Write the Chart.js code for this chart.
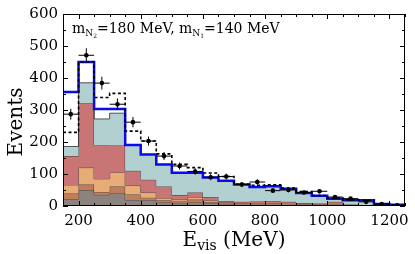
<!DOCTYPE html>
<html>
<head>
<meta charset="utf-8">
<script src="https://cdn.jsdelivr.net/npm/chart.js@4.4.0/dist/chart.umd.min.js"></script>
<style>
  html, body { margin: 0; padding: 0; background: #fff; }
</style>
</head>
<body>
<canvas id="evisChart" width="415" height="254"></canvas>
<script>
/* ----- data ----- */
const binLow = [150, 200, 250, 300, 350, 400, 450, 500, 550, 600, 650,
                700, 750, 800, 850, 900, 950, 1000, 1050, 1100, 1150, 1200];
const binHigh = 1250;

// stacked background components, bottom to top
const grayPart   = [22, 49, 35, 41, 19, 18, 11, 10, 11, 8, 5, 3, 3, 3, 3, 2, 2, 2, 1, 1, 1, 0.5];
const brownPart  = [17, 18, 9, 20, 17, 8, 7, 4, 9, 5, 3, 2, 2, 2, 1, 1, 1, 1, 1, 0.5, 0, 0];
const orangePart = [27, 53, 41, 44, 28, 16, 7, 6, 8, 5, 3, 3, 3, 3, 3, 2, 2, 3, 1, 0.5, 0.5, 0.5];
const redPart    = [90, 201, 105, 84, 46, 40, 36, 14, 14, 10, 5, 5, 6, 8, 6, 4, 3, 7, 2, 1, 0.5, 0];
const tealPart   = [30, 64, 82, 101, 81, 79, 69, 70, 62, 61, 63, 54, 45, 46, 41, 32, 24, 10, 13, 15, 4, 3];

const blueLine   = [356, 450, 303, 303, 191, 161, 130, 104, 104, 89, 79, 67, 59, 62, 54, 41, 32, 23, 18, 18, 6, 4];
const dashedLine = [230, 450, 339, 352, 234, 203, 163, 130, 120, 103, 92, 68, 65, 66, 56, 45, 33, 25, 19, 18, 6, 4];

const dataPoints = [287, 471, 384, 318, 262, 203, 156, 125, 108, 90, 92, 67, 75, 48, 50, 42, 46, 28, 23, 13, 6, 2];
const dataErrors = [17, 22, 20, 18, 16, 14, 12.5, 11, 10, 9.5, 9.6, 8, 8.7, 7, 7, 6.5, 6.8, 5.3, 4.8, 3.6, 2.4, 1.4];

const xMajorTicks = [200, 400, 600, 800, 1000, 1200];

/* ----- helpers ----- */
const SERIF = "'DejaVu Serif', 'Liberation Serif', serif";

function cumulate(parts) {
    const out = [];
    parts.forEach((p, k) => {
        out.push(p.map((v, i) => v + (k ? out[k - 1][i] : 0)));
    });
    return out;
}

// histogram as step points: value of bin i holds from binLow[i] to next edge
function steps(values) {
    const pts = values.map((v, i) => ({ x: binLow[i], y: v }));
    pts.unshift({ x: binLow[0], y: values[0] });
    pts.push({ x: binHigh, y: values[values.length - 1] });
    return pts;
}

const [grayTop, brownTop, orangeTop, redTop, tealTop] =
    cumulate([grayPart, brownPart, orangePart, redPart, tealPart]);

function layer(data, fill, color, order) {
    return {
        data: steps(data),
        stepped: 'before',
        fill: fill,
        backgroundColor: color,
        borderColor: 'rgba(55, 55, 55, 0.85)',
        borderWidth: 1,
        pointRadius: 0,
        order: order
    };
}

// draw a string made of pieces with their own size and baseline shift
function drawPieces(ctx, pieces, x, y) {
    let cx = x;
    pieces.forEach(p => {
        ctx.font = p.size + 'px ' + SERIF;
        ctx.fillText(p.t, cx, y + (p.dy || 0));
        cx += ctx.measureText(p.t).width;
    });
    return cx - x;
}
function piecesWidth(ctx, pieces) {
    let w = 0;
    pieces.forEach(p => {
        ctx.font = p.size + 'px ' + SERIF;
        w += ctx.measureText(p.t).width;
    });
    return w;
}

/* ----- plugin: error bars, frame, ticks, titles ----- */
const decorations = {
    id: 'decorations',
    afterDatasetsDraw(chart) {
        const { ctx, scales: { x, y } } = chart;
        ctx.save();
        ctx.strokeStyle = '#000';
        ctx.lineWidth = 1;
        dataPoints.forEach((v, i) => {
            const px = x.getPixelForValue(binLow[i] + 25);
            const py = y.getPixelForValue(v);
            ctx.beginPath();
            ctx.moveTo(x.getPixelForValue(binLow[i]), py);
            ctx.lineTo(x.getPixelForValue(binLow[i] + 50), py);
            ctx.moveTo(px, y.getPixelForValue(v - dataErrors[i]));
            ctx.lineTo(px, y.getPixelForValue(v + dataErrors[i]));
            ctx.stroke();
        });
        ctx.restore();
    },
    afterDraw(chart) {
        const { ctx, chartArea: a, scales: { x, y } } = chart;
        ctx.save();
        ctx.strokeStyle = '#000';
        ctx.lineWidth = 1;
        ctx.strokeRect(a.left + 0.5, a.top + 0.5, a.right - a.left - 1, a.bottom - a.top - 1);

        ctx.beginPath();
        for (let v = 150; v <= 1250; v += 50) {
            const px = Math.round(x.getPixelForValue(v)) + 0.5;
            const len = xMajorTicks.includes(v) ? 5 : 3;
            ctx.moveTo(px, a.bottom); ctx.lineTo(px, a.bottom - len);
            ctx.moveTo(px, a.top); ctx.lineTo(px, a.top + len);
        }
        for (let v = 0; v <= 600; v += 50) {
            const py = Math.round(y.getPixelForValue(v)) + 0.5;
            const len = v % 100 === 0 ? 5 : 3;
            ctx.moveTo(a.left, py); ctx.lineTo(a.left + len, py);
            ctx.moveTo(a.right, py); ctx.lineTo(a.right - len, py);
        }
        ctx.stroke();

        ctx.fillStyle = '#000';
        ctx.textBaseline = 'alphabetic';

        // mass label
        drawPieces(ctx, [
            { t: 'm', size: 14 },
            { t: 'N', size: 9, dy: 3 },
            { t: '2', size: 6, dy: 5 },
            { t: '=180 MeV, m', size: 14 },
            { t: 'N', size: 9, dy: 3 },
            { t: '1', size: 6, dy: 5 },
            { t: '=140 MeV', size: 14 }
        ], a.left + 9, a.top + 19);

        // x title
        const xt = [
            { t: 'E', size: 20 },
            { t: 'vis', size: 14, dy: 4 },
            { t: ' (MeV)', size: 20 }
        ];
        const cx = (a.left + a.right) / 2;
        drawPieces(ctx, xt, cx - piecesWidth(ctx, xt) / 2, 246);

        // y title
        ctx.translate(22, 122);
        ctx.rotate(-Math.PI / 2);
        ctx.font = '20px ' + SERIF;
        ctx.textAlign = 'center';
        ctx.fillText('Events', 0, 0);
        ctx.restore();
    }
};

/* ----- chart ----- */
new Chart(document.getElementById('evisChart'), {
    type: 'line',
    data: {
        datasets: [
            layer(grayTop, 'origin', 'rgb(140, 131, 126)', 7),
            layer(brownTop, '-1', 'rgb(192, 125, 92)', 6),
            layer(orangeTop, '-1', 'rgb(232, 172, 118)', 5),
            layer(redTop, '-1', 'rgb(201, 117, 117)', 4),
            layer(tealTop, '-1', 'rgb(178, 208, 208)', 3),
            {
                data: steps(blueLine),
                stepped: 'before',
                fill: false,
                borderColor: 'rgb(10, 10, 235)',
                borderWidth: 2.5,
                pointRadius: 0,
                order: 2
            },
            {
                data: steps(dashedLine),
                stepped: 'before',
                fill: false,
                borderColor: '#000',
                borderWidth: 1.6,
                borderDash: [3, 2.5],
                pointRadius: 0,
                order: 1
            },
            {
                data: dataPoints.map((v, i) => ({ x: binLow[i] + 25, y: v })),
                showLine: false,
                pointRadius: 2.3,
                pointBackgroundColor: '#000',
                pointBorderColor: '#000',
                pointBorderWidth: 0,
                order: 0
            }
        ]
    },
    options: {
        responsive: false,
        animation: false,
        devicePixelRatio: 1,
        layout: { padding: { top: 10, right: 10, left: 0, bottom: 0 } },
        plugins: {
            legend: { display: false },
            tooltip: { enabled: false }
        },
        scales: {
            x: {
                type: 'linear',
                min: 150,
                max: 1250,
                grid: { display: false, drawTicks: false },
                border: { display: false },
                ticks: {
                    stepSize: 200,
                    includeBounds: false,
                    autoSkip: false,
                    maxRotation: 0,
                    padding: 6,
                    color: '#000',
                    font: { family: SERIF, size: 15 },
                    callback: (v) => String(v)
                },
                afterFit: (s) => { s.height = 48; }
            },
            y: {
                min: 0,
                max: 600,
                grid: { display: false, drawTicks: false },
                border: { display: false },
                ticks: {
                    stepSize: 100,
                    padding: 5,
                    color: '#000',
                    font: { family: SERIF, size: 15 },
                    callback: (v) => String(v)
                },
                afterFit: (s) => { s.width = 63; }
            }
        }
    },
    plugins: [decorations]
});
</script>
</body>
</html>
